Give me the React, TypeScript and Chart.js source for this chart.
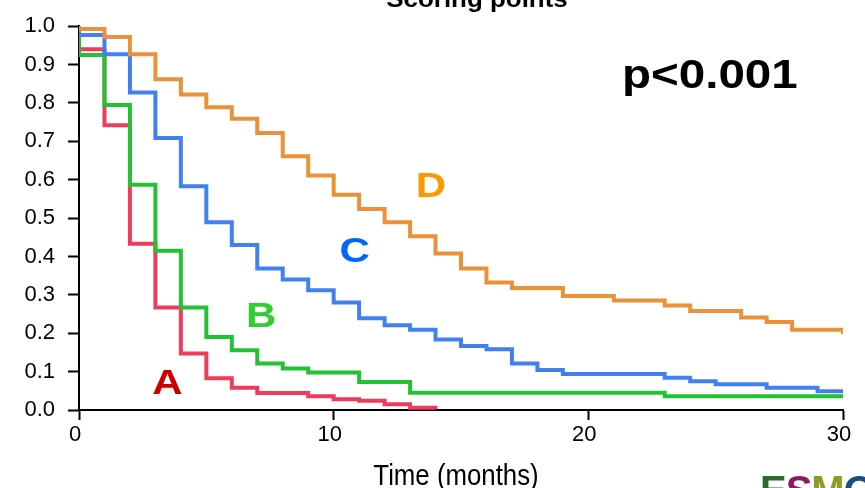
import React, { useEffect, useRef } from 'react';
import { Chart, registerables } from 'chart.js';

Chart.register(...registerables);

// ---- Data (months, survival proportion after the step) ----
const monthsA = [0, 0, 1, 2, 3, 4, 5, 6, 7, 9, 10, 11, 12, 13, 14];
const survivalA = [1, 0.94, 0.742, 0.433, 0.267, 0.147, 0.083, 0.058, 0.044, 0.036, 0.028, 0.024, 0.015, 0.006, 0.002];

const monthsB = [0, 0, 1, 2, 3, 4, 5, 6, 7, 8, 9, 11, 13, 23, 30];
const survivalB = [1, 0.925, 0.795, 0.587, 0.415, 0.267, 0.19, 0.156, 0.121, 0.108, 0.098, 0.073, 0.045, 0.036, 0.036];

const monthsC = [0, 0, 1, 2, 3, 4, 5, 6, 7, 8, 9, 10, 11, 12, 13, 14, 15, 16, 17, 18, 19, 23, 24, 25, 27, 29, 30];
const survivalC = [1, 0.977, 0.927, 0.827, 0.709, 0.583, 0.489, 0.43, 0.369, 0.34, 0.312, 0.28, 0.239, 0.221, 0.209, 0.184, 0.167, 0.158, 0.121, 0.104, 0.094, 0.084, 0.075, 0.067, 0.058, 0.049, 0.049];

const monthsD = [0, 0, 1, 2, 3, 4, 5, 6, 7, 8, 9, 10, 11, 12, 13, 14, 15, 16, 17, 19, 21, 23, 24, 26, 27, 28, 30];
const survivalD = [1, 0.993, 0.972, 0.927, 0.862, 0.822, 0.789, 0.759, 0.722, 0.661, 0.611, 0.561, 0.524, 0.489, 0.453, 0.408, 0.369, 0.332, 0.318, 0.297, 0.285, 0.272, 0.258, 0.241, 0.229, 0.209, 0.198];

const groupNames = ['A', 'B', 'C', 'D'];
const lineColors = ['#EE3C5A', '#22C233', '#4080F0', '#EB9137'];
const letterColors = ['#CC0000', '#33CC33', '#0066FF', '#FF9900'];
const letterMonths = [3.47, 7.15, 10.82, 13.82];
const letterSurvival = [0.041, 0.215, 0.385, 0.556];

const xTicks = [0, 10, 20, 30];
const yTicks = [0, 0.1, 0.2, 0.3, 0.4, 0.5, 0.6, 0.7, 0.8, 0.9, 1.0];

const chartTitle = 'Scoring points';
const pValueText = 'p<0.001';
const pValueMonth = 24.77;
const pValueSurvival = 0.838;
const xAxisTitle = 'Time (months)';
const logoLetters = ['E', 'S', 'M', 'O'];
const logoColors = ['#2D6A2E', '#8C1B5C', '#8E9B24', '#1B4D7E'];

const FONT = '"Liberation Sans", Arial, Helvetica, sans-serif';

function toPoints(xs: number[], ys: number[]) {
  return xs.map((x, i) => ({ x, y: ys[i] }));
}

function drawStretched(ctx: CanvasRenderingContext2D, text: string, cx: number, baseline: number, font: string, color: string, sx: number, align: CanvasTextAlign = 'center') {
  ctx.save();
  ctx.translate(cx, baseline);
  ctx.scale(sx, 1);
  ctx.font = font;
  ctx.fillStyle = color;
  ctx.textAlign = align;
  ctx.textBaseline = 'alphabetic';
  ctx.fillText(text, 0, 0);
  ctx.restore();
}

const annotationPlugin = {
  id: 'kmAnnotations',
  afterDatasetsDraw(chart: any) {
    const { ctx, scales } = chart;
    const x = scales.x;
    const y = scales.y;
    ctx.save();
    groupNames.forEach((name, i) => {
      drawStretched(ctx, name, x.getPixelForValue(letterMonths[i]), y.getPixelForValue(letterSurvival[i]), `bold 35px ${FONT}`, letterColors[i], 1.2);
    });
    drawStretched(ctx, pValueText, x.getPixelForValue(pValueMonth), y.getPixelForValue(pValueSurvival), `bold 41px ${FONT}`, '#000', 1.16);
    // x-axis title (condensed)
    drawStretched(ctx, xAxisTitle, 456, 485, `30px ${FONT}`, '#000', 0.86);
    // cut-off title at top
    drawStretched(ctx, chartTitle, 477, 7, `bold 24px ${FONT}`, '#000', 1.08);
    // partial logo at bottom right
    ctx.font = `bold 40px ${FONT}`;
    let lx = 760;
    logoLetters.forEach((ch, i) => {
      ctx.fillStyle = logoColors[i];
      ctx.textAlign = 'left';
      ctx.textBaseline = 'alphabetic';
      ctx.fillText(ch, lx, 504);
      lx += ctx.measureText(ch).width - 1;
    });
    ctx.restore();
  },
};

export default function App() {
  const canvasRef = useRef<HTMLCanvasElement | null>(null);

  useEffect(() => {
    if (!canvasRef.current) return;
    const seriesX = [monthsD, monthsC, monthsB, monthsA];
    const seriesY = [survivalD, survivalC, survivalB, survivalA];
    const colorIdx = [3, 2, 1, 0];
    const chart = new Chart(canvasRef.current, {
      type: 'line',
      data: {
        datasets: seriesX.map((xs, i) => ({
          label: groupNames[colorIdx[i]],
          data: toPoints(xs, seriesY[i]),
          borderColor: lineColors[colorIdx[i]],
          backgroundColor: lineColors[colorIdx[i]],
          borderWidth: 4,
          pointRadius: 0,
          stepped: true,
          fill: false,
          tension: 0,
          borderJoinStyle: 'miter' as const,
          borderCapStyle: 'butt' as const,
        })),
      },
      options: {
        animation: false,
        responsive: false,
        devicePixelRatio: 1,
        layout: { padding: { top: 20, right: 22, left: 0, bottom: 0 } },
        plugins: {
          legend: { display: false },
          tooltip: { enabled: false },
          title: { display: false },
        },
        scales: {
          x: {
            type: 'linear',
            min: 0,
            max: 30,
            afterFit: (scale: any) => { scale.height = 78; },
            afterBuildTicks: (scale: any) => { scale.ticks = xTicks.map((v) => ({ value: v })); },
            ticks: {
              color: '#000',
              font: { family: FONT, size: 22 },
              padding: 2,
              labelOffset: -4,
              maxRotation: 0,
              autoSkip: false,
              callback: (v: any) => String(v),
            },
            grid: { drawOnChartArea: false, drawTicks: true, tickLength: 10, tickColor: '#000', tickWidth: 2 },
            border: { display: true, color: '#000', width: 2 },
            title: { display: false },
          },
          y: {
            type: 'linear',
            min: 0,
            max: 1,
            afterFit: (scale: any) => { scale.width = 79; },
            afterBuildTicks: (scale: any) => { scale.ticks = yTicks.map((v) => ({ value: v })); },
            ticks: {
              color: '#000',
              font: { family: FONT, size: 22 },
              padding: 13,
              autoSkip: false,
              callback: (v: any) => Number(v).toFixed(1),
            },
            grid: { drawOnChartArea: false, drawTicks: true, tickLength: 11, tickColor: '#000', tickWidth: 2 },
            border: { display: true, color: '#000', width: 2 },
          },
        },
      },
      plugins: [annotationPlugin],
    } as any);
    return () => chart.destroy();
  }, []);

  return (
    <div style={{ position: 'absolute', left: 0, top: 0, width: 865, height: 488, background: '#fff' }}>
      <canvas ref={canvasRef} width={865} height={488} style={{ display: 'block' }} />
    </div>
  );
}
